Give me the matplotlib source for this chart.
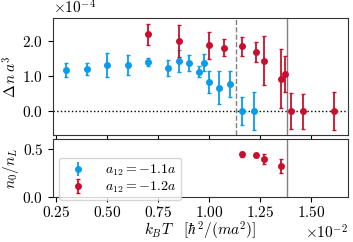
import matplotlib
matplotlib.use("Agg")
import matplotlib.pyplot as plt
from matplotlib.ticker import ScalarFormatter

plt.rcParams['font.family'] = 'serif'
plt.rcParams['font.serif'] = ['cmr10', 'DejaVu Serif']
plt.rcParams['mathtext.fontset'] = 'cm'
plt.rcParams['axes.formatter.use_mathtext'] = True
plt.rcParams['font.size'] = 11

blue = '#0a9cec'
red = '#c8102e'

# a12 = -1.1a  (x in 1e-2 hbar^2/(m a^2), y in 1e-4)
T_b = [0.30, 0.40, 0.50, 0.60, 0.70, 0.80, 0.85, 0.90, 0.95, 0.975, 1.00, 1.05, 1.10, 1.16, 1.22]
dn_b = [1.16, 1.19, 1.31, 1.31, 1.40, 1.23, 1.43, 1.36, 1.12, 1.38, 0.83, 0.66, 0.77, 0.0, 0.0]
dn_b_err = [0.20, 0.17, 0.33, 0.29, 0.12, 0.23, 0.31, 0.23, 0.15, 0.24, 0.32, 0.47, 0.36, 0.39, 0.54]

# a12 = -1.2a
T_r = [0.70, 0.85, 1.00, 1.075, 1.16, 1.23, 1.27, 1.35, 1.37, 1.40, 1.46, 1.61]
dn_r = [2.19, 2.00, 1.87, 1.80, 1.84, 1.68, 1.44, 0.92, 1.06, 0.0, 0.0, 0.0]
dn_r_err = [0.30, 0.45, 0.39, 0.24, 0.26, 0.28, 0.70, 0.84, 0.52, 0.52, 0.50, 0.54]

# condensate fraction, a12 = -1.2a
T_n0 = [1.16, 1.23, 1.27, 1.35]
n0 = [0.44, 0.43, 0.39, 0.32]
n0_err = [0.03, 0.02, 0.05, 0.07]

T_dash = 1.132
T_solid = 1.382


class FixedFmt(ScalarFormatter):
    def __init__(self, order, fmt):
        super().__init__(useMathText=True)
        self.order = order
        self.fmt = fmt

    def _set_order_of_magnitude(self):
        self.orderOfMagnitude = self.order

    def _set_format(self):
        self.format = r'$\mathdefault{' + self.fmt + '}$'


sx = 1e-2
sy = 1e-4

fig = plt.figure(figsize=(3.53, 2.42), dpi=100)
ax1 = fig.add_axes([53/353, 1 - 135/242, (348-53)/353, (135-18)/242])
ax2 = fig.add_axes([53/353, 1 - 197/242, (348-53)/353, (197-139)/242], sharex=ax1)

ekw = dict(fmt='o', ms=4, capsize=1.5, elinewidth=1.3, capthick=1.0)
ax1.errorbar([t*sx for t in T_b], [v*sy for v in dn_b], yerr=[e*sy for e in dn_b_err],
             color=blue, ecolor=blue, label=r'$a_{12}=-1.1a$', **ekw)
ax1.errorbar([t*sx for t in T_r], [v*sy for v in dn_r], yerr=[e*sy for e in dn_r_err],
             color=red, ecolor=red, label=r'$a_{12}=-1.2a$', **ekw)
ax1.axhline(0, color='black', ls=':', lw=1.0, zorder=0)
ax1.axvline(T_dash*sx, color='gray', ls='--', lw=1.0, zorder=0)
ax1.axvline(T_solid*sx, color='gray', ls='-', lw=1.0, zorder=0)
ax1.set_ylim(-0.68e-4, 2.65e-4)
ax1.set_yticks([0, 1e-4, 2e-4])
ax1.yaxis.set_major_formatter(FixedFmt(-4, '%1.1f'))
ax1.set_ylabel(r'$\Delta\, n\, a^3$', labelpad=2)
ax1.tick_params(labelbottom=False)

ax2.errorbar([], [], yerr=[], color=blue, ecolor=blue, label=r'$a_{12}=-1.1a$', **ekw)
ax2.errorbar([t*sx for t in T_n0], n0, yerr=n0_err,
             color=red, ecolor=red, label=r'$a_{12}=-1.2a$', **ekw)
ax2.axvline(T_solid*sx, color='gray', ls='-', lw=1.0, zorder=0)
ax2.set_ylim(0, 0.6)
ax2.set_yticks([0, 0.5])
ax2.yaxis.set_major_formatter(FixedFmt(0, '%1.1f'))
ax2.set_ylabel(r'$n_0/n_L$', labelpad=1)
ax2.set_xlim(0.235*sx, 1.68*sx)
ax2.set_xticks([0.25*sx, 0.5*sx, 0.75*sx, 1.0*sx, 1.25*sx, 1.5*sx])
ax2.xaxis.set_major_formatter(FixedFmt(-2, '%1.2f'))
ax2.tick_params(axis='x', pad=2)
ax2.set_xlabel(r'$k_BT\quad[\hbar^2/(ma^2)]$', labelpad=0)
ax2.legend(loc='upper left', fontsize=10, handletextpad=1.0, borderaxespad=0.0,
           labelspacing=0.15, borderpad=0.35, bbox_to_anchor=(0.02, 0.68))

for ax in (ax1, ax2):
    for s in ax.spines.values():
        s.set_color('#333333')

fig.savefig('out.png', dpi=100)
